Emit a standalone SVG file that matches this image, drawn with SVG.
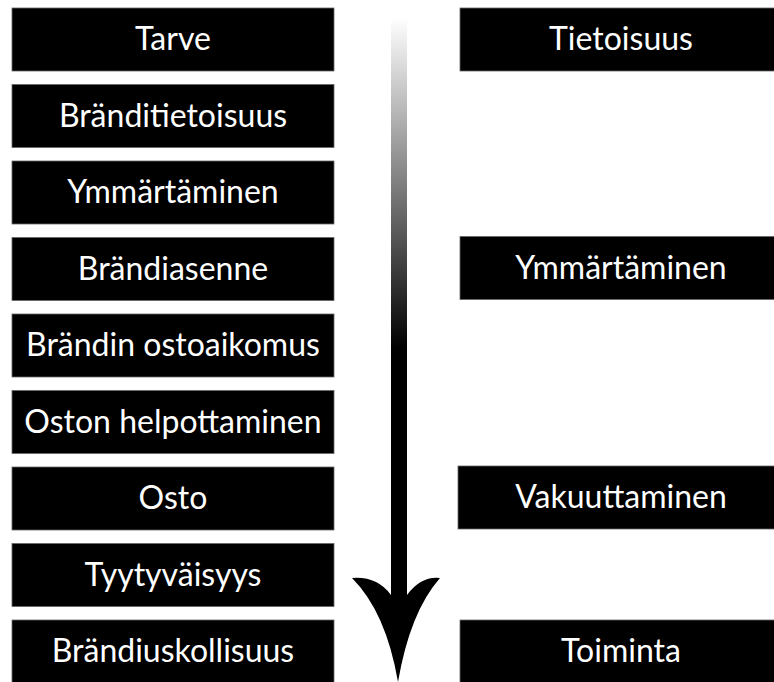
<svg xmlns="http://www.w3.org/2000/svg" width="774" height="682" viewBox="0 0 774 682">
  <defs>
    <linearGradient id="shaftGrad" x1="0" y1="18" x2="0" y2="348" gradientUnits="userSpaceOnUse">
      <stop offset="0" stop-color="#ffffff"/>
      <stop offset="1" stop-color="#000000"/>
    </linearGradient>
  </defs>
  <style>
    .box { fill: #000; stroke: #666; stroke-width: 0.8; }
    .lbl { fill: #fff; font-family: Lato, "Noto Sans", sans-serif; font-weight: 400; font-size: 32px; text-anchor: middle; }
  </style>
  <rect width="774" height="682" fill="#fff"/>

  <g id="left-tarve"><rect class="box" x="12" y="8" width="322" height="63"/><text class="lbl" x="173" y="50">Tarve</text></g>
  <g id="left-branditietoisuus"><rect class="box" x="12" y="84.5" width="322" height="63"/><text class="lbl" x="173" y="126.5">Bränditietoisuus</text></g>
  <g id="left-ymmartaminen"><rect class="box" x="12" y="161" width="322" height="63"/><text class="lbl" x="173" y="203">Ymmärtäminen</text></g>
  <g id="left-brandiasenne"><rect class="box" x="12" y="237.5" width="322" height="63"/><text class="lbl" x="173" y="279.5">Brändiasenne</text></g>
  <g id="left-ostoaikomus"><rect class="box" x="12" y="314" width="322" height="63"/><text class="lbl" x="173" y="356">Brändin ostoaikomus</text></g>
  <g id="left-helpottaminen"><rect class="box" x="12" y="390.5" width="322" height="63"/><text class="lbl" x="173" y="432.5">Oston helpottaminen</text></g>
  <g id="left-osto"><rect class="box" x="12" y="467" width="322" height="63"/><text class="lbl" x="173" y="509">Osto</text></g>
  <g id="left-tyytyvaisyys"><rect class="box" x="12" y="543.5" width="322" height="63"/><text class="lbl" x="173" y="585.5">Tyytyväisyys</text></g>
  <g id="left-uskollisuus"><rect class="box" x="12" y="620" width="322" height="63"/><text class="lbl" x="173" y="662">Brändiuskollisuus</text></g>

  <g id="right-tietoisuus"><rect class="box" x="460" y="8" width="322" height="63"/><text class="lbl" x="621" y="50">Tietoisuus</text></g>
  <g id="right-ymmartaminen"><rect class="box" x="460" y="236.5" width="322" height="63"/><text class="lbl" x="621" y="278.5">Ymmärtäminen</text></g>
  <g id="right-vakuuttaminen"><rect class="box" x="458" y="466" width="322" height="63"/><text class="lbl" x="621" y="508">Vakuuttaminen</text></g>
  <g id="right-toiminta"><rect class="box" x="460" y="620" width="322" height="63"/><text class="lbl" x="621" y="662">Toiminta</text></g>

  <g id="connectors">
    <rect x="391" y="18" width="16" height="585" fill="url(#shaftGrad)"/>
    <path d="M391,595 Q377,576 352,578 Q386,612 398,682 Q410,612 440,578 Q421,576 407,595 Z" fill="#000"/>
  </g>
</svg>
